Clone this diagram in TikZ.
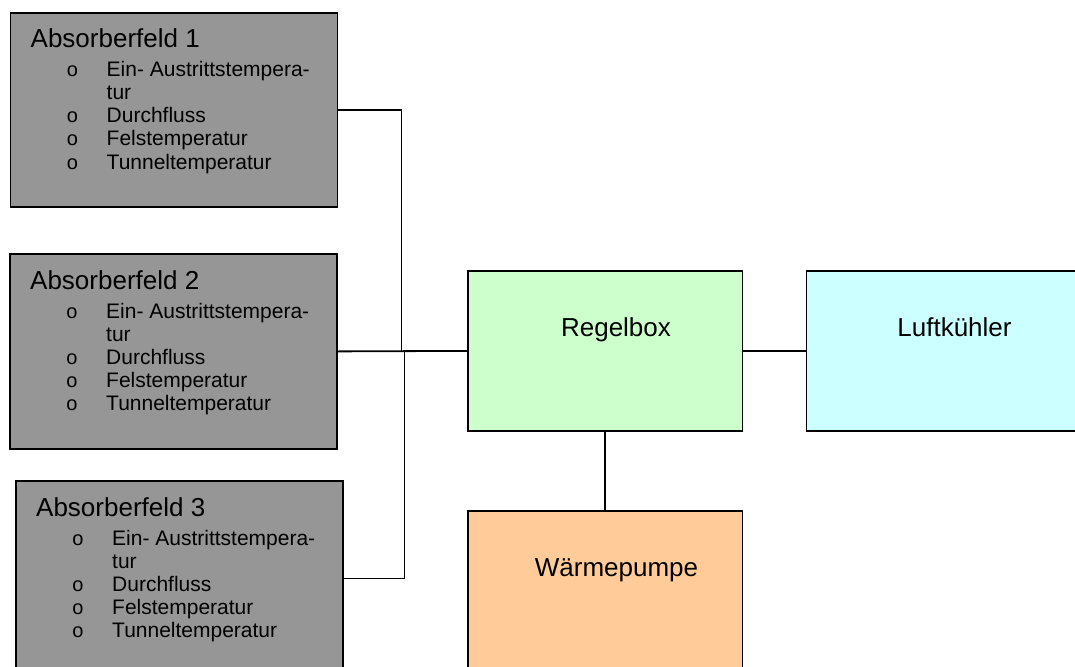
\documentclass[tikz,border=0pt]{standalone}
\usepackage{fontspec}
\setmainfont{Liberation Sans}
\usetikzlibrary{calc}

\definecolor{fieldgray}{HTML}{969696}
\definecolor{ctrlgreen}{HTML}{CCFFCC}
\definecolor{coolcyan}{HTML}{CCFFFF}
\definecolor{pumporange}{HTML}{FFCC99}

\tikzset{
  box/.style={draw=black, line width=1.8pt, rectangle, inner sep=0pt, anchor=north west},
  fieldbox/.style={box, fill=fieldgray},
  unitbox/.style={box, minimum width=274.5pt, minimum height=160pt},
  bigtext/.style={font=\fontsize{26}{30}\selectfont, inner sep=0pt, anchor=base west},
  labeltext/.style={font=\fontsize{26}{30}\selectfont, inner sep=0pt, anchor=base},
  itemtext/.style={font=\fontsize{21}{25}\selectfont, inner sep=0pt, anchor=base west},
  bullettext/.style={font=\fontsize{20}{24}\selectfont, inner sep=0pt, anchor=base},
  link/.style={draw=black, line width=1.8pt},
}

% one absorber field: name, left, top, height, number
\newcommand\absorberfield[5]{%
  \node[fieldbox, minimum width=327pt, minimum height=#4pt] (#1) at (#2,#3) {};
  \node[bigtext] (#1-title) at ($(#1.north west)+(21,36)$) {Absorberfeld #5};
  \foreach \txt/\dy/\bul [count=\i] in
    {Ein- Austrittstempera-/65/1,tur/88/0,Durchfluss/111/1,Felstemperatur/134/1,Tunneltemperatur/157/1}{
    \node[itemtext] (#1-item\i) at ($(#1.north west)+(97,\dy)$) {\txt};
    \ifnum\bul=1 \node[bullettext] (#1-mark\i) at ($(#1.north west)+(63,\dy)$) {o};\fi
  }
}

\begin{document}
\begin{tikzpicture}[x=1pt, y=-1pt]
  \useasboundingbox (0,0) rectangle (1075,666);
  \clip (0,0) rectangle (1075,666);

  % absorber fields on the left
  \absorberfield{af1}{9.5}{12}{194}{1}
  \absorberfield{af2}{9}{253}{195}{2}
  \absorberfield{af3}{15}{480}{195}{3}

  % units on the right
  \node[unitbox, fill=ctrlgreen] (regel) at (467,270) {};
  \node[unitbox, fill=coolcyan] (kuehler) at (805.5,270) {};
  \node[unitbox, fill=pumporange] (pumpe) at (467,510) {};

  \node[labeltext] (regel-text) at (616,336) {Regelbox};
  \node[labeltext] (kuehler-text) at (954.5,336) {Luftkühler};
  \node[labeltext] (pumpe-text) at (616.5,576) {Wärmepumpe};

  % junction points of the bus lines
  \coordinate (j1) at (401.5,350.5);
  \coordinate (j3) at (404.5,350.5);

  % connectors
  \draw[link] (af1.east) -| (j1);
  \draw[link] (af3.east) -| (j3);
  \draw[link] (af2.east) -- (regel.west);
  \draw[link] (regel.east) -- (kuehler.west);
  \draw[link] (regel.south) -- (pumpe.north);
\end{tikzpicture}
\end{document}
